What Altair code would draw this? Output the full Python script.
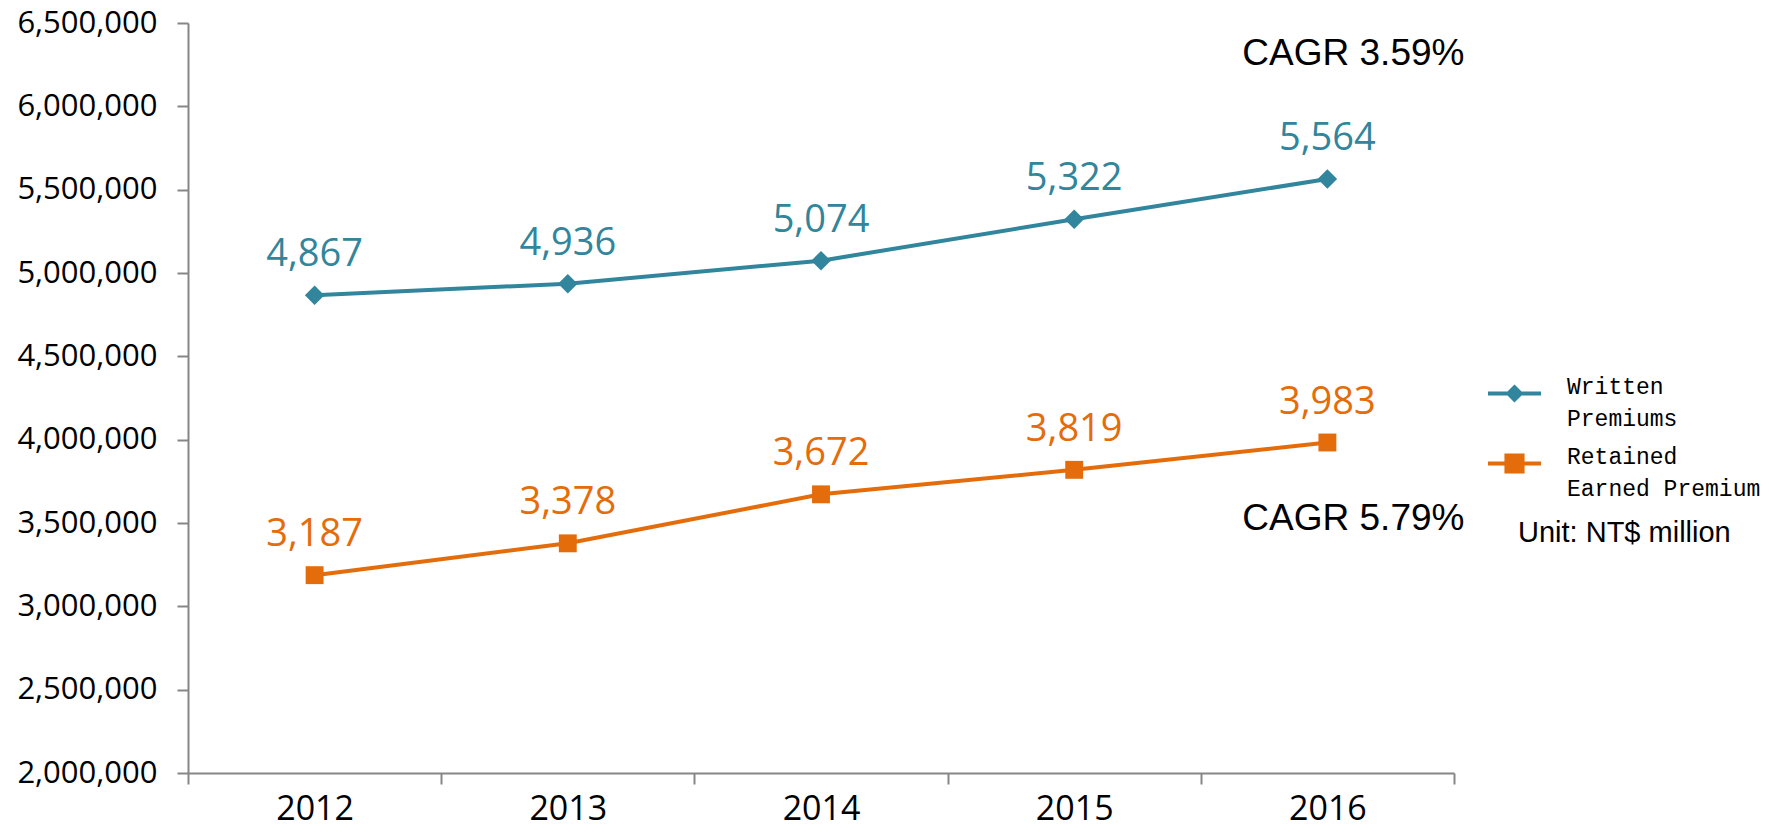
import altair as alt
import pandas as pd

years = ["2012", "2013", "2014", "2015", "2016"]
written = [4867, 4936, 5074, 5322, 5564]
retained = [3187, 3378, 3672, 3819, 3983]
series_names = ["Written Premiums", "Retained Earned Premium"]
colors = ["#31859C", "#E46C0A"]
cagr_text = ["CAGR 3.59%", "CAGR 5.79%"]
cagr_level = [6250000, 3460000]
unit_text = "Unit: NT$ million"

rows = []
for s, vals in zip(series_names, [written, retained]):
    for y, v in zip(years, vals):
        rows.append({"year": y, "series": s, "value": v})
df = pd.DataFrame(rows)

W, H = 1266, 750

x_enc = alt.X("year:N", sort=years, title=None,
              scale=alt.Scale(paddingInner=0, paddingOuter=0),
              axis=alt.Axis(labelAngle=0, tickBand="extent", labelFontSize=34,
                            labelFont="Open Sans", labelColor="#000000",
                            labelPadding=8, tickSize=11, tickColor="#868686",
                            tickWidth=2, domainColor="#868686", domainWidth=2,
                            grid=False))
y_enc = alt.Y("val:Q", title=None,
              scale=alt.Scale(domain=[2000000, 6500000], nice=False, zero=False),
              axis=alt.Axis(values=list(range(2000000, 6500001, 500000)),
                            format=",d", labelFontSize=31, labelFont="Open Sans",
                            labelColor="#000000", labelPadding=20, tickSize=11,
                            tickColor="#868686", tickWidth=2, domainColor="#868686",
                            domainWidth=2, grid=False))
color_scale = alt.Scale(domain=series_names, range=colors)

base = alt.Chart(df).transform_calculate(val="datum.value * 1000")

diamond_path = ("M-1,-0.075L-0.265,-0.075L0,-0.34L0.265,-0.075L1,-0.075"
                "L1,0.075L0.265,0.075L0,0.34L-0.265,0.075L-1,0.075Z")
square_path = ("M-1,-0.075L-0.38,-0.075L-0.38,-0.38L0.38,-0.38L0.38,-0.075L1,-0.075"
               "L1,0.075L0.38,0.075L0.38,0.38L-0.38,0.38L-0.38,0.075L-1,0.075Z")

legend = alt.Legend(
    title=None, orient="none", legendX=1300, legendY=344,
    labelFont="Liberation Mono", labelFontSize=23, labelColor="#000000",
    labelBaseline="alphabetic",
    labelExpr="datum.label == 'Written Premiums' ? ['Written', 'Premiums'] : ['Retained', 'Earned Premium']",
    symbolSize=2809, symbolStrokeWidth=0, symbolOpacity=1, rowPadding=6,
    labelOffset=26, labelLimit=400, padding=0,
)

legend_layer = base.mark_point(filled=True, opacity=0).encode(
    x=x_enc, y=y_enc,
    color=alt.Color("series:N", scale=color_scale, legend=legend),
    shape=alt.Shape("series:N", scale=alt.Scale(domain=series_names,
                                                range=[diamond_path, square_path]),
                    legend=legend),
)

lines = base.mark_line(strokeWidth=4).encode(
    x=alt.X("year:N", sort=years), y="val:Q",
    color=alt.Color("series:N", scale=color_scale, legend=None),
)

pts_w = base.transform_filter(alt.datum.series == series_names[0]).mark_point(
    shape="diamond", filled=True, size=380, opacity=1, color=colors[0]
).encode(x=alt.X("year:N", sort=years), y="val:Q")
pts_r = base.transform_filter(alt.datum.series == series_names[1]).mark_point(
    shape="square", filled=True, size=320, opacity=1, color=colors[1]
).encode(x=alt.X("year:N", sort=years), y="val:Q")

labels = base.mark_text(font="Open Sans", fontSize=38, baseline="alphabetic",
                        align="center", dy=-29).encode(
    x=alt.X("year:N", sort=years), y="val:Q",
    text=alt.Text("value:Q", format=",d"),
    color=alt.Color("series:N", scale=color_scale, legend=None),
)

ann_df = pd.DataFrame({"year": ["2016", "2016"], "level": cagr_level, "text": cagr_text})
ann = alt.Chart(ann_df).mark_text(font="Liberation Sans", fontSize=37, align="center",
                                  baseline="alphabetic", dx=26, color="#000000").encode(
    x=alt.X("year:N", sort=years), y=alt.Y("level:Q"), text="text:N")

unit = alt.Chart(pd.DataFrame({"text": [unit_text]})).mark_text(
    font="Liberation Sans", fontSize=29, align="left", baseline="alphabetic",
    color="#000000").encode(x=alt.value(1330), y=alt.value(519), text="text:N")

chart = alt.layer(legend_layer, lines, pts_w, pts_r, labels, ann, unit).properties(
    width=W, height=H,
    view=alt.ViewBackground(stroke="transparent", strokeWidth=0),
    autosize=alt.AutoSizeParams(type="none"),
    padding={"left": 188, "top": 23, "right": 315, "bottom": 66},
).configure_view(stroke="transparent", strokeWidth=0).configure_axis(
    grid=False
).configure(background="white", style={"guide-label": {"lineHeight": 32}})

chart.save("out.html", embed_options={"renderer": "svg", "actions": False})
